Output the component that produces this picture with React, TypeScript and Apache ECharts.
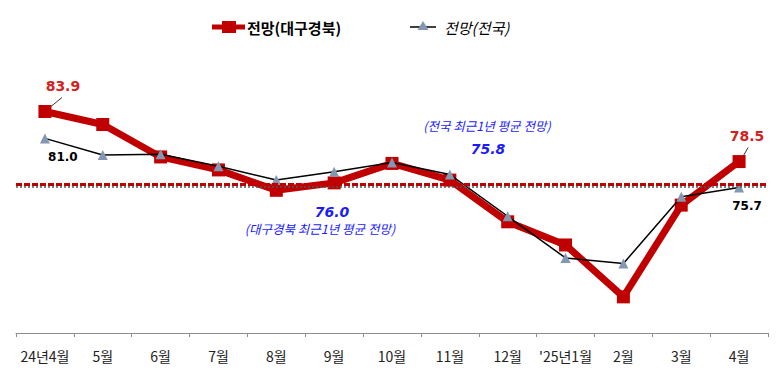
import React, { useEffect, useRef } from "react";
import * as echarts from "echarts";

const categories = ["24년4월", "5월", "6월", "7월", "8월", "9월", "10월", "11월", "12월", "'25년1월", "2월", "3월", "4월"];
const daeguValues = [83.9, 82.5, 79.0, 77.6, 75.4, 76.2, 78.3, 76.5, 72.0, 69.5, 63.9, 73.8, 78.5];
const nationalValues = [81.0, 79.2, 79.3, 78.0, 76.5, 77.4, 78.4, 77.1, 72.6, 68.1, 67.5, 74.7, 75.7];
const daeguAvg = 76.0;
const nationalAvg = 75.8;
const yMin = 60;
const yMax = 90;

const KR = '"Noto Sans CJK KR", "Noto Sans", sans-serif';
const NUM = '"DejaVu Sans", Verdana, sans-serif';
const RED = "#c00000";
const BLUE = "#1a1aff";

export default function App() {
  const ref = useRef<HTMLDivElement>(null);
  useEffect(() => {
    if (!ref.current) return;
    const chart = echarts.init(ref.current, null, { renderer: "svg" });
    chart.setOption({
      animation: false,
      backgroundColor: "#ffffff",
      grid: { left: 16, right: 12, top: 55, bottom: 41 },
      xAxis: {
        type: "category",
        data: categories,
        boundaryGap: true,
        axisLine: { lineStyle: { color: "#8c8c8c", width: 1 } },
        axisTick: { show: true, length: 4, interval: 0, lineStyle: { color: "#8c8c8c" } },
        axisLabel: { color: "#222222", fontFamily: KR, fontSize: 14, margin: 16, interval: 0 },
      },
      yAxis: {
        type: "value",
        min: yMin,
        max: yMax,
        show: false,
        splitLine: { show: false },
      },
      series: [
        {
          name: "전망(전국)",
          type: "line",
          data: nationalValues,
          z: 2,
          lineStyle: { color: "#7a7a7a", width: 0 },
          symbol: "none",
          markLine: {
            silent: true,
            symbol: "none",
            label: { show: false },
            lineStyle: { color: "#555555", type: [2, 2], width: 1.5 },
            data: [{ yAxis: nationalAvg }],
          },
        },
        {
          name: "전망(대구경북)",
          type: "line",
          data: daeguValues,
          z: 3,
          lineStyle: { color: RED, width: 7 },
          itemStyle: { color: RED },
          symbol: "rect",
          symbolSize: 13,
          markLine: {
            silent: true,
            symbol: "none",
            label: { show: false },
            lineStyle: { color: RED, type: [6, 2], width: 3 },
            data: [{ yAxis: daeguAvg }],
          },
        },
        {
          name: "전망(전국) ",
          type: "line",
          data: nationalValues,
          z: 4,
          lineStyle: { color: "#000000", width: 1.5 },
          itemStyle: { color: "#8497b0" },
          symbol: "triangle",
          symbolSize: 10,
        },
      ],
    });

    const p = (i: number, v: number) => chart.convertToPixel({ gridIndex: 0 }, [i, v]) as number[];
    const last = categories.length - 1;
    const d0 = p(0, daeguValues[0]);
    const n0 = p(0, nationalValues[0]);
    const dl = p(last, daeguValues[last]);
    const nl = p(last, nationalValues[last]);
    const avgN = p(0, nationalAvg);
    const avgD = p(0, daeguAvg);

    chart.setOption({
      graphic: [
        // legend
        { type: "line", shape: { x1: 212, y1: 27, x2: 245, y2: 27 }, style: { stroke: RED, lineWidth: 5 } },
        { type: "rect", shape: { x: 222, y: 21, width: 14, height: 12 }, style: { fill: RED } },
        { type: "text", style: { x: 247, y: 27, text: "전망(대구경북)", font: `bold 15px ${KR}`, fill: "#000", textVerticalAlign: "middle" } },
        { type: "line", shape: { x1: 410, y1: 27, x2: 436, y2: 27 }, style: { stroke: "#000", lineWidth: 1.5 } },
        { type: "polygon", shape: { points: [[423, 21], [417.5, 30], [428.5, 30]] }, style: { fill: "#8497b0" } },
        { type: "text", style: { x: 444, y: 27, text: "전망(전국)", font: `italic 15px ${KR}`, fill: "#000", textVerticalAlign: "middle" } },
        // value labels
        { type: "text", style: { x: d0[0] + 18, y: d0[1] - 26, text: daeguValues[0].toFixed(1), font: `bold 14px ${NUM}`, fill: "#d21f1f", textAlign: "center", textVerticalAlign: "middle" } },
        { type: "line", shape: { x1: d0[0] + 17, y1: d0[1] - 14, x2: d0[0] + 1, y2: d0[1] - 1 }, style: { stroke: "#000", lineWidth: 0.8 } },
        { type: "text", style: { x: n0[0] + 18, y: n0[1] + 19, text: nationalValues[0].toFixed(1), font: `bold 12px ${NUM}`, fill: "#000", textAlign: "center", textVerticalAlign: "middle" } },
        { type: "text", style: { x: dl[0] + 8, y: dl[1] - 26, text: daeguValues[last].toFixed(1), font: `bold 14px ${NUM}`, fill: "#d21f1f", textAlign: "center", textVerticalAlign: "middle" } },
        { type: "line", shape: { x1: dl[0] + 9, y1: dl[1] - 14, x2: dl[0] + 1, y2: dl[1] } , style: { stroke: "#000", lineWidth: 0.8 } },
        { type: "text", style: { x: nl[0] + 8, y: nl[1] + 18, text: nationalValues[last].toFixed(1), font: `bold 12px ${NUM}`, fill: "#000", textAlign: "center", textVerticalAlign: "middle" } },
        // average annotations
        { type: "text", style: { x: 487, y: avgN[1] - 61, text: "(전국 최근1년 평균 전망)", font: `italic 12.5px ${KR}`, fill: BLUE, textAlign: "center", textVerticalAlign: "middle" } },
        { type: "text", style: { x: 488, y: avgN[1] - 38, text: nationalAvg.toFixed(1), font: `italic bold 14px ${NUM}`, fill: BLUE, textAlign: "center", textVerticalAlign: "middle" } },
        { type: "text", style: { x: 332, y: avgD[1] + 27, text: daeguAvg.toFixed(1), font: `italic bold 14px ${NUM}`, fill: BLUE, textAlign: "center", textVerticalAlign: "middle" } },
        { type: "text", style: { x: 320, y: avgD[1] + 44, text: "(대구경북 최근1년 평균 전망)", font: `italic 12.5px ${KR}`, fill: BLUE, textAlign: "center", textVerticalAlign: "middle" } },
      ],
    });
    return () => chart.dispose();
  }, []);
  return <div ref={ref} style={{ width: 780, height: 374, position: "absolute", left: 0, top: 0 }} />;
}
